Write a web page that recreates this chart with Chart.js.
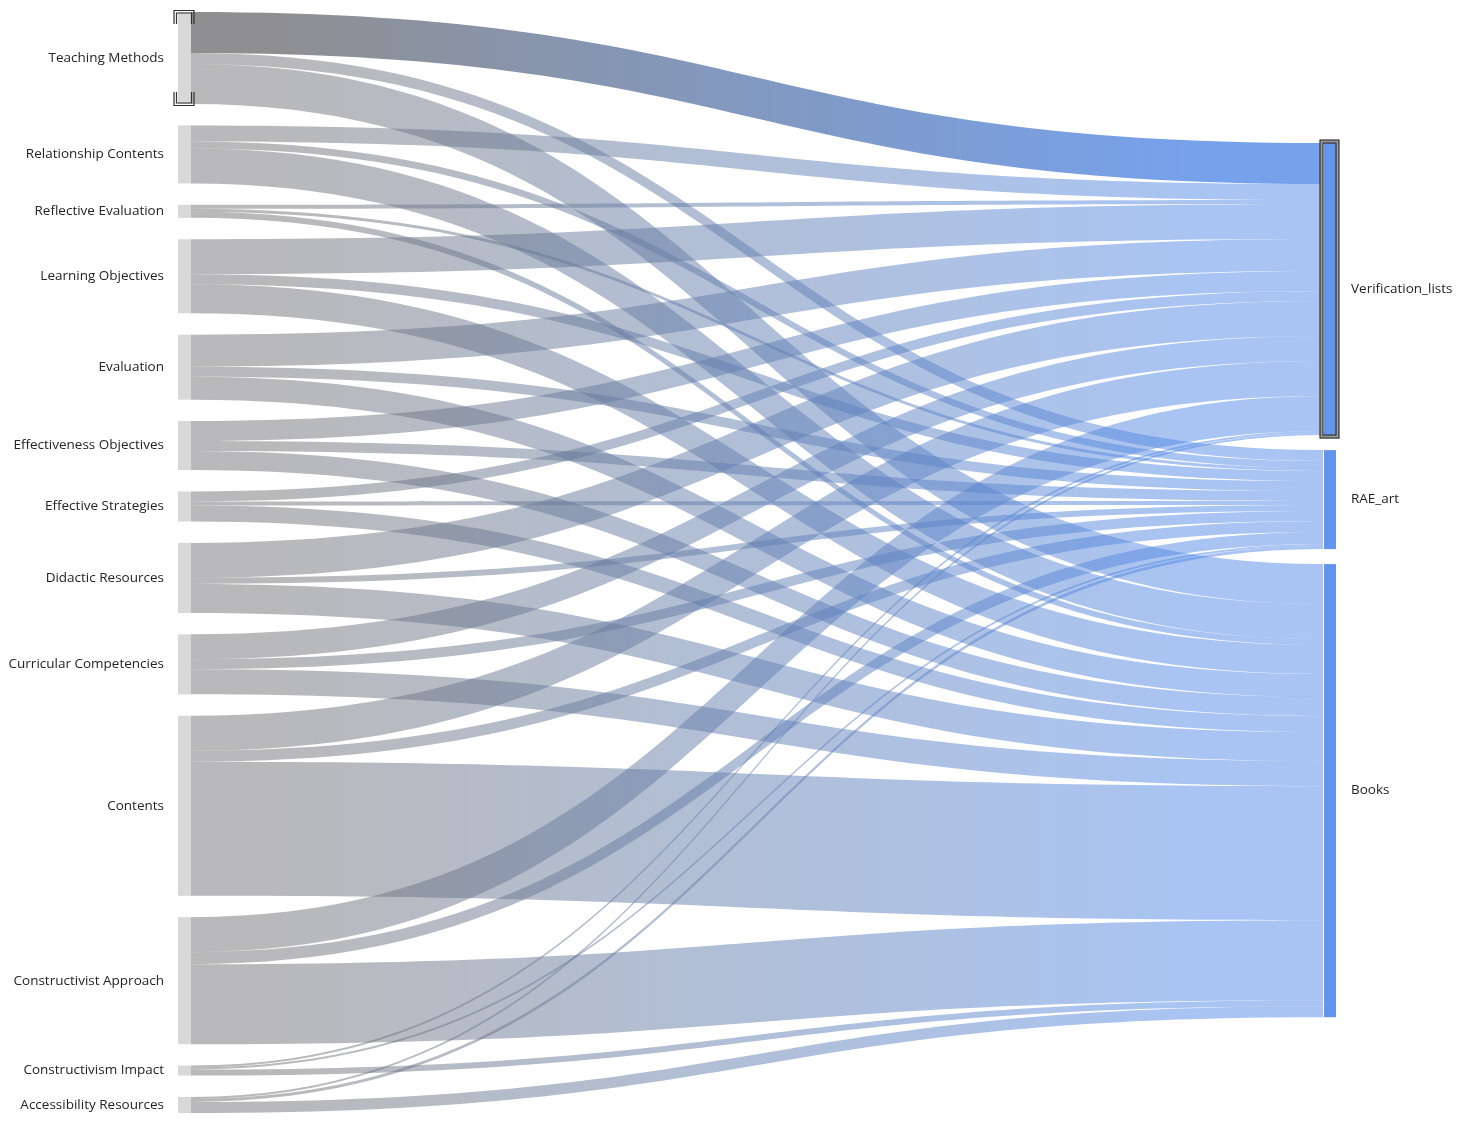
<!DOCTYPE html>
<html>
<head>
<meta charset="utf-8">
<title>Sankey</title>
<script src="https://cdn.jsdelivr.net/npm/chart.js@4.4.1/dist/chart.umd.min.js"></script>
<style>
  body { margin: 0; background: #fff; }
  #wrap { width: 1460px; height: 1127px; }
</style>
</head>
<body>
<div id="wrap"><canvas id="sankey" width="1460" height="1127"></canvas></div>
<script>
// source nodes (left column), top to bottom
const sources = [
  "Teaching Methods", "Relationship Contents", "Reflective Evaluation",
  "Learning Objectives", "Evaluation", "Effectiveness Objectives",
  "Effective Strategies", "Didactic Resources", "Curricular Competencies",
  "Contents", "Constructivist Approach", "Constructivism Impact",
  "Accessibility Resources"
]
// target nodes (right column)
const targets = ["Verification_lists", "RAE_art", "Books"]

// flow values from each source to each target (same order as sources)
const toVerification = [41, 16, 4, 35, 32, 20, 10, 35, 25, 35, 35, 2, 2]
const toRAE = [11, 7, 3, 10, 10, 10, 4, 6, 10, 11, 12, 2, 3]
const toBooks = [40, 35, 6, 29, 23, 19, 16, 29, 25, 134, 80, 6, 11]

const flows = [toVerification, toRAE, toBooks]

const leftTotals = sources.map((s, i) => flows.reduce((a, f) => a + f[i], 0))
const rightTotals = flows.map(f => f.reduce((a, v) => a + v, 0))
const grandTotal = leftTotals.reduce((a, v) => a + v, 0)

const LEFT_PAD = 21.4   // gap between left nodes, in value units
const RIGHT_PAD = 15    // gap between right nodes
const RIGHT_TOP = 131   // where the right column starts, in value units
const yMax = grandTotal + LEFT_PAD * (sources.length - 1)

const sankeyPlugin = {
  id: "sankeyLinks",
  afterDatasetsDraw(chart, args, opts) {
    const ctx = chart.ctx
    const xs = chart.scales.x
    const ys = chart.scales.y
    const nw = opts.nodeWidth

    // stack nodes in value space
    let y = 0
    const leftNodes = sources.map((name, i) => {
      const n = { name: name, y0: y, y1: y + leftTotals[i], off: y }
      y += leftTotals[i] + LEFT_PAD
      return n
    })
    y = RIGHT_TOP
    const rightNodes = targets.map((name, j) => {
      const n = { name: name, y0: y, y1: y + rightTotals[j], off: y }
      y += rightTotals[j] + RIGHT_PAD
      return n
    })

    const xl = xs.getPixelForValue(0)
    const xr = xs.getPixelForValue(1)
    const x0 = xl + nw
    const x1 = xr - nw
    const xm = (x0 + x1) / 2

    // build links: leave source in target order, enter target in source order
    let links = []
    for (let i = 0; i < sources.length; i++) {
      for (let j = 0; j < targets.length; j++) {
        const v = flows[j][i]
        if (!v) continue
        links.push({ i: i, j: j, v: v, s0: leftNodes[i].off, t0: 0 })
        leftNodes[i].off += v
      }
    }
    for (let j = 0; j < targets.length; j++) {
      for (const l of links) {
        if (l.j !== j) continue
        l.t0 = rightNodes[j].off
        rightNodes[j].off += l.v
      }
    }

    function drawLink(l, alpha) {
      const s0 = ys.getPixelForValue(l.s0)
      const s1 = ys.getPixelForValue(l.s0 + l.v)
      const t0 = ys.getPixelForValue(l.t0)
      const t1 = ys.getPixelForValue(l.t0 + l.v)
      const g = ctx.createLinearGradient(x0, 0, x1, 0)
      g.addColorStop(0.07, `rgba(115,115,118,${alpha})`)
      g.addColorStop(0.88, `rgba(84,138,230,${alpha})`)
      ctx.fillStyle = g
      ctx.beginPath()
      ctx.moveTo(x0, s0)
      ctx.bezierCurveTo(xm, s0, xm, t0, x1, t0)
      ctx.lineTo(x1, t1)
      ctx.bezierCurveTo(xm, t1, xm, s1, x0, s1)
      ctx.closePath()
      ctx.fill()
    }

    ctx.save()
    for (const l of links) {
      if (l.i === opts.selSource && l.j === opts.selTarget) continue
      drawLink(l, 0.5)
    }
    for (const l of links) {
      if (l.i === opts.selSource && l.j === opts.selTarget) drawLink(l, 0.8)
    }

    // nodes
    ctx.fillStyle = "#d8d8d8"
    for (const n of leftNodes) {
      const top = ys.getPixelForValue(n.y0)
      ctx.fillRect(xl, top, nw, ys.getPixelForValue(n.y1) - top)
    }
    ctx.fillStyle = "#6495ed"
    for (const n of rightNodes) {
      const top = ys.getPixelForValue(n.y0)
      ctx.fillRect(x1 + 1, top, nw - 1, ys.getPixelForValue(n.y1) - top)
    }

    // selection marks
    const sl = leftNodes[opts.selSource]
    const lt = ys.getPixelForValue(sl.y0), lb = ys.getPixelForValue(sl.y1)
    function bracket(d, shade, w) {
      ctx.strokeStyle = shade
      ctx.lineWidth = w
      const a = xl - 4 + d, b = xl + nw + 3 - d
      ctx.beginPath()
      ctx.moveTo(a, lt + 12); ctx.lineTo(a, lt - 1.5 + d); ctx.lineTo(b, lt - 1.5 + d); ctx.lineTo(b, lt + 12)
      ctx.moveTo(a, lb - 12); ctx.lineTo(a, lb + 1.5 - d); ctx.lineTo(b, lb + 1.5 - d); ctx.lineTo(b, lb - 12)
      ctx.stroke()
    }
    bracket(0, "#333", 1.2)
    bracket(2.5, "#333", 1.2)
    const sr = rightNodes[opts.selTarget]
    const rt = ys.getPixelForValue(sr.y0), rb = ys.getPixelForValue(sr.y1)
    ctx.strokeStyle = "#9a9a9a"
    ctx.lineWidth = 3
    ctx.strokeRect(x1 - 1.5, rt - 1.5, nw + 3, rb - rt + 3)
    ctx.strokeStyle = "#333"
    ctx.lineWidth = 1.2
    ctx.strokeRect(x1 - 3, rt - 3, nw + 6, rb - rt + 6)
    ctx.strokeRect(x1, rt, nw, rb - rt)

    // labels
    ctx.fillStyle = "#252423"
    ctx.font = opts.font
    ctx.textBaseline = "middle"
    ctx.textAlign = "right"
    for (const n of leftNodes) {
      ctx.fillText(n.name, xl - 14, (ys.getPixelForValue(n.y0) + ys.getPixelForValue(n.y1)) / 2)
    }
    ctx.textAlign = "left"
    for (const n of rightNodes) {
      ctx.fillText(n.name, xr + 15, (ys.getPixelForValue(n.y0) + ys.getPixelForValue(n.y1)) / 2)
    }
    ctx.restore()
  }
}

new Chart(document.getElementById("sankey"), {
  type: "scatter",
  data: { datasets: [{ data: [], pointRadius: 0 }] },
  options: {
    responsive: false,
    animation: false,
    events: [],
    layout: { padding: { left: 178, right: 124, top: 12, bottom: 14 } },
    scales: {
      x: { type: "linear", min: 0, max: 1, display: false },
      y: { type: "linear", min: 0, max: yMax, reverse: true, display: false }
    },
    plugins: {
      legend: { display: false },
      tooltip: { enabled: false },
      sankeyLinks: {
        nodeWidth: 13,
        selSource: 0,
        selTarget: 0,
        font: "13.5px 'Open Sans', 'Noto Sans', sans-serif"
      }
    }
  },
  plugins: [sankeyPlugin]
})
</script>
</body>
</html>
